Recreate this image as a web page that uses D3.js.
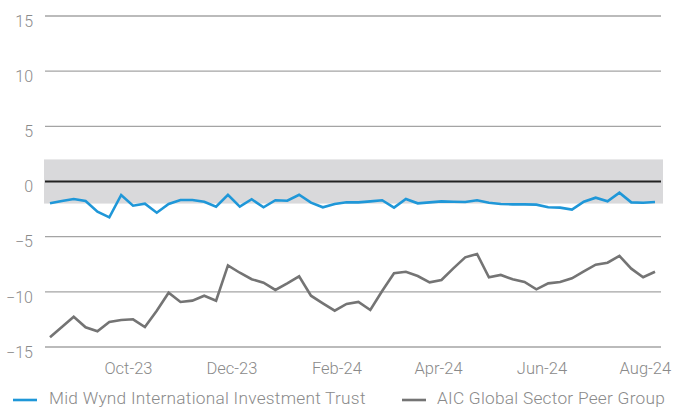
<!DOCTYPE html>
<html>
<head>
<meta charset="utf-8">
<script src="https://cdn.jsdelivr.net/npm/d3@7"></script>
<style>
  html, body { margin: 0; padding: 0; background: #fff; }
  svg text { font-family: Roboto, "Liberation Sans", sans-serif; font-weight: 300; fill: #8a8a8a; }
</style>
</head>
<body>
<svg id="chart" width="674" height="408"></svg>
<script>
// ---- data ----
const seriesNames = ["Mid Wynd International Investment Trust", "AIC Global Sector Peer Group"];
const startDate = "2023-08-16"; // first weekly observation
const midWynd = [
  -1.98, -1.77, -1.59, -1.77, -2.74, -3.25, -1.22, -2.19, -2.01, -2.83,
  -2.04, -1.68, -1.68, -1.83, -2.28, -1.20, -2.28, -1.61, -2.34, -1.70,
  -1.74, -1.20, -1.92, -2.34, -2.04, -1.88, -1.89, -1.80, -1.70, -2.37,
  -1.59, -1.98, -1.89, -1.80, -1.83, -1.86, -1.70, -1.92, -2.04, -2.07,
  -2.07, -2.10, -2.34, -2.37, -2.55, -1.83, -1.47, -1.80, -1.02, -1.89,
  -1.92, -1.86
];
const peerGroup = [
  -14.12, -13.19, -12.25, -13.21, -13.58, -12.73, -12.55, -12.49, -13.19, -11.71,
  -10.08, -10.92, -10.80, -10.35, -10.80, -7.60, -8.27, -8.86, -9.17, -9.83,
  -9.23, -8.59, -10.35, -11.04, -11.71, -11.10, -10.92, -11.65, -9.92, -8.32,
  -8.18, -8.57, -9.14, -8.93, -7.87, -6.87, -6.57, -8.68, -8.47, -8.86,
  -9.11, -9.77, -9.23, -9.11, -8.77, -8.14, -7.54, -7.36, -6.75, -7.90,
  -8.68, -8.18
];
const xTickLabels = ["Oct-23", "Dec-23", "Feb-24", "Apr-24", "Jun-24", "Aug-24"];
const yTicks = [15, 10, 5, 0, -5, -10, -15];
const bandRange = [-2, 2];

// ---- chart ----
const svg = d3.select("#chart");
const parseDay = d3.timeParse("%Y-%m-%d");
const parseTick = d3.timeParse("%b-%y");
const start = parseDay(startDate);
const dates = midWynd.map((_, i) => d3.timeDay.offset(start, 7 * i));

const x = d3.scaleTime().domain([dates[0], dates[dates.length - 1]]).range([50, 655]);
const y = d3.scaleLinear().domain([-15, 15]).range([347, 16]);

const gridX0 = 45, gridX1 = 661;

// shaded band
svg.append("rect")
  .attr("x", 44).attr("width", 663 - 44)
  .attr("y", y(bandRange[1])).attr("height", y(bandRange[0]) - y(bandRange[1]))
  .attr("fill", "#d9d9db");

// gridlines
svg.append("g").selectAll("line")
  .data(yTicks.filter(d => d !== 0))
  .join("line")
  .attr("x1", gridX0).attr("x2", gridX1)
  .attr("y1", d => y(d)).attr("y2", d => y(d))
  .attr("stroke", "#a4a4a4").attr("stroke-width", 1.3);

// zero line
svg.append("line")
  .attr("x1", gridX0).attr("x2", gridX1)
  .attr("y1", y(0)).attr("y2", y(0))
  .attr("stroke", "#222").attr("stroke-width", 2);

// y axis labels
const yAxis = d3.axisLeft(y).tickValues(yTicks).tickSize(0).tickPadding(0);
const gy = svg.append("g").attr("transform", "translate(33,4.5)").call(yAxis);
gy.select(".domain").remove();
gy.selectAll("text").attr("font-size", 16).attr("fill", "#8a8a8a")
  .style("font-family", "Roboto, sans-serif").style("font-weight", 300)
  .attr("dy", "0.36em");

// x axis labels
const tickDates = xTickLabels.map(s => parseTick(s));
const xAxis = d3.axisBottom(x).tickValues(tickDates).tickFormat((d, i) => xTickLabels[i]).tickSize(0).tickPadding(0);
const gx = svg.append("g").attr("transform", "translate(0,362)").call(xAxis);
gx.select(".domain").remove();
gx.selectAll("text").attr("font-size", 16.5).attr("fill", "#8a8a8a")
  .style("font-family", "Roboto, sans-serif").style("font-weight", 300)
  .attr("dy", "0.73em");

// lines
const line = d3.line().x((d, i) => x(dates[i])).y(d => y(d));
svg.append("path").datum(peerGroup)
  .attr("d", line).attr("fill", "none")
  .attr("stroke", "#747474").attr("stroke-width", 2.6).attr("stroke-linejoin", "miter");
svg.append("path").datum(midWynd)
  .attr("d", line).attr("fill", "none")
  .attr("stroke", "#1f97d8").attr("stroke-width", 2.6).attr("stroke-linejoin", "miter");

// legend
const legendItems = [
  { name: seriesNames[0], color: "#1f97d8", x: 13, tx: 49 },
  { name: seriesNames[1], color: "#747474", x: 402, tx: 437 }
];
const lg = svg.append("g");
legendItems.forEach(it => {
  lg.append("line").attr("x1", it.x).attr("x2", it.x + 24)
    .attr("y1", 400).attr("y2", 400)
    .attr("stroke", it.color).attr("stroke-width", 2.6);
  lg.append("text").attr("x", it.tx).attr("y", 404)
    .attr("font-size", 17.3).style("letter-spacing", "0.25px").text(it.name);
});
</script>
</body>
</html>
